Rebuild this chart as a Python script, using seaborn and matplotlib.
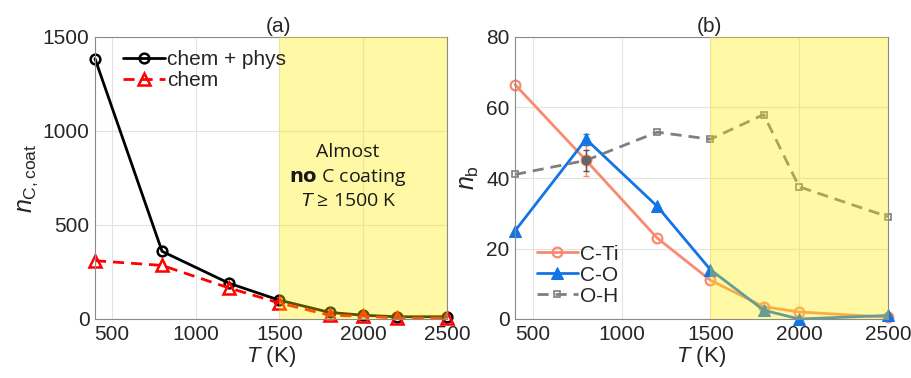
import numpy as np
import pandas as pd
import seaborn as sns
import matplotlib.pyplot as plt

# panel (a)
temp_a = [400, 800, 1200, 1500, 1800, 2000, 2200, 2500]
chem_phys = [1385, 360, 190, 100, 35, 20, 12, 12]
chem = [310, 285, 165, 85, 20, 15, 5, 5]

# panel (b)
temp_b = [400, 800, 1200, 1500, 1800, 2000, 2500]
c_ti = [66.5, 45, 23, 11, 3.5, 2, 0.5]
c_o = [25, 51, 32, 14, 2.5, 0, 1]
o_h = [41, 45, 53, 51, 58, 37.5, 29]
err_800 = {"C-Ti": 4.5, "C-O": 1.5, "O-H": 3}

sns.set_theme(style="whitegrid")
plt.rcParams['font.family'] = ['Liberation Sans', 'DejaVu Sans']
plt.rcParams['mathtext.fontset'] = 'custom'
plt.rcParams['mathtext.rm'] = 'Liberation Sans'
plt.rcParams['mathtext.it'] = 'Liberation Sans:italic'

fig = plt.figure(figsize=(9.12, 3.78), dpi=100)
ax1 = fig.add_axes([95/912, 1-319/378, 352/912, 282/378])
ax2 = fig.add_axes([515/912, 1-319/378, 373/912, 282/378])

def style_axes(ax):
    for s in ax.spines.values():
        s.set_color('#8a8a8a')
        s.set_linewidth(0.8)
    ax.grid(True, color='#e3e3e3', linewidth=0.8)
    ax.tick_params(labelsize=15, colors='#262626', direction='in', length=3,
                   color='#8a8a8a', pad=4)
    ax.set_xticks([500, 1000, 1500, 2000, 2500])
    ax.set_xlabel('$T$ (K)', fontsize=16, color='#262626', labelpad=0)

# ---- (a)
da = pd.DataFrame({"T": temp_a, "cp": chem_phys, "c": chem})
sns.lineplot(data=da, x="T", y="cp", ax=ax1, color='black', lw=2, marker='o',
             markersize=7, markerfacecolor='none', markeredgecolor='black',
             markeredgewidth=1.8, label='chem + phys', zorder=2, clip_on=False)
sns.lineplot(data=da, x="T", y="c", ax=ax1, color='red', lw=2, ls=(0, (4, 2.5)),
             marker='^', markersize=8, markerfacecolor='none', markeredgecolor='red',
             markeredgewidth=1.8, label='chem', zorder=2, clip_on=False)
ax1.axvspan(1500, 2500, color='#FFEE00', alpha=0.35, lw=0, zorder=3)
ax1.set_xlim(400, 2500)
ax1.set_ylim(0, 1500)
ax1.set_yticks([0, 500, 1000, 1500])
style_axes(ax1)
ax1.set_ylabel(r'$n_{\mathrm{C,coat}}$', fontsize=18, color='#262626', labelpad=2)
ax1.legend(loc='upper left', frameon=False, fontsize=15, handlelength=2,
           handletextpad=0.1, borderaxespad=0.1, labelspacing=0.1,
           bbox_to_anchor=(0.05, 0.99))
ax1.text(1910, 888, 'Almost', ha='center', va='center', fontsize=14,
         family='Open Sans', color='#1a1a1a', zorder=4)
ax1.text(1910, 755, r'$\bf{no}$ C coating', ha='center', va='center', fontsize=14,
         family='Open Sans', color='#1a1a1a', zorder=4)
ax1.text(1910, 628, r'$T$ ≥ 1500 K', ha='center', va='center', fontsize=14,
         family='Open Sans', color='#1a1a1a', zorder=4)
ax1.text(0.52, 1.005, '(a)', transform=ax1.transAxes, ha='center', va='bottom',
         fontsize=15, color='#262626')

# ---- (b)
db = pd.DataFrame({"T": temp_b, "C-Ti": c_ti, "C-O": c_o, "O-H": o_h})
sns.lineplot(data=db, x="T", y="C-Ti", ax=ax2, color='#F98A70', lw=2, marker='o',
             markersize=7, markerfacecolor='none', markeredgecolor='#F98A70',
             markeredgewidth=1.6, label='C-Ti', zorder=2, clip_on=False)
sns.lineplot(data=db, x="T", y="C-O", ax=ax2, color='#1473E6', lw=2, marker='^',
             markersize=8, markerfacecolor='#1473E6', markeredgecolor='#1473E6',
             label='C-O', zorder=2, clip_on=False)
sns.lineplot(data=db, x="T", y="O-H", ax=ax2, color='#7f7f7f', lw=2, ls=(0, (4, 2.5)),
             marker='s', markersize=5, markerfacecolor='none', markeredgecolor='#7f7f7f',
             markeredgewidth=1.2, label='O-H', zorder=2, clip_on=False)
i800 = temp_b.index(800)
for name, col in [("C-Ti", '#F98A70'), ("C-O", '#1473E6'), ("O-H", '#555555')]:
    ax2.errorbar(800, db[name][i800], yerr=err_800[name], color=col, lw=1,
                 capsize=2, fmt='none', zorder=2)
ax2.plot(800, 45, 'o', color='#666666', markersize=6, zorder=2)
ax2.axvspan(1500, 2500, color='#FFEE00', alpha=0.35, lw=0, zorder=3)
ax2.set_xlim(400, 2500)
ax2.set_ylim(0, 80)
ax2.set_yticks([0, 20, 40, 60, 80])
style_axes(ax2)
ax2.set_ylabel(r'$n_{\mathrm{b}}$', fontsize=18, color='#262626', labelpad=4)
ax2.legend(loc='lower left', frameon=False, fontsize=15, handlelength=2,
           handletextpad=0.1, borderaxespad=0.1, labelspacing=0.1,
           bbox_to_anchor=(0.03, 0.01))
ax2.text(0.52, 1.005, '(b)', transform=ax2.transAxes, ha='center', va='bottom',
         fontsize=15, color='#262626')

fig.savefig('out.png', dpi=100)
